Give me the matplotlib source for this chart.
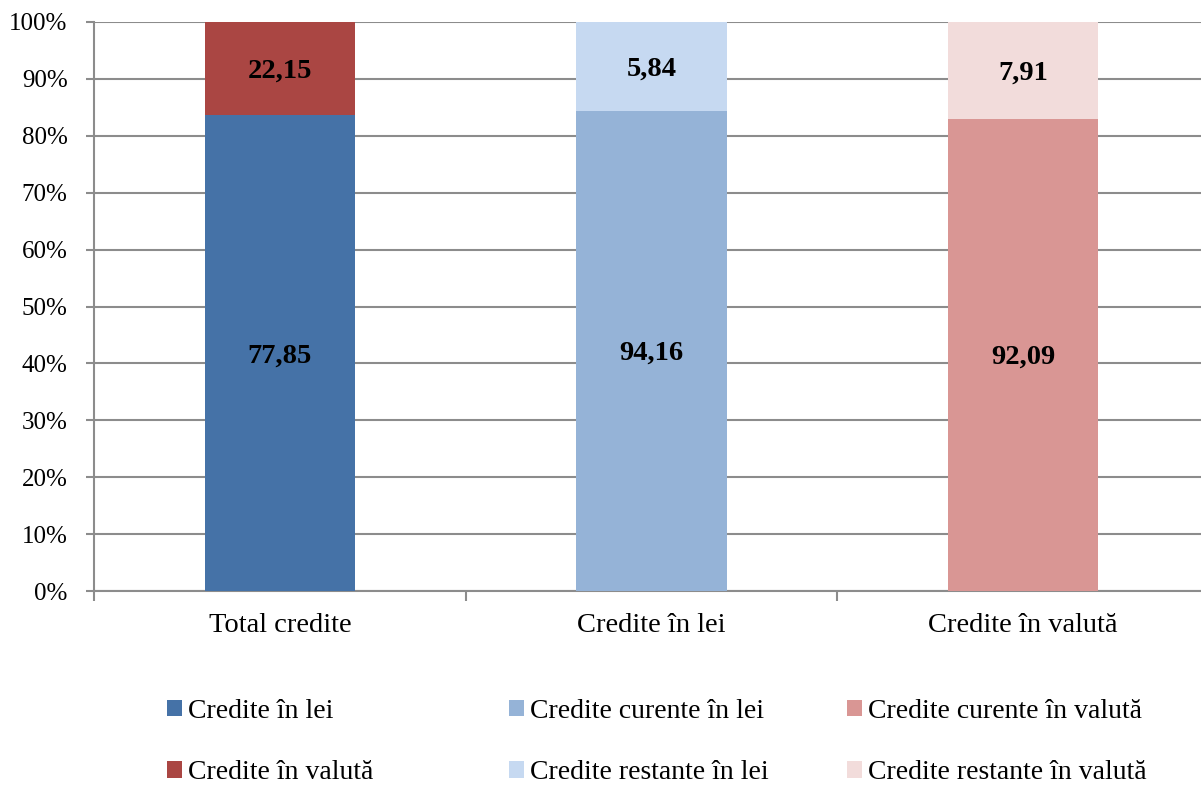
import matplotlib.pyplot as plt
from matplotlib.ticker import FuncFormatter, FixedLocator
from matplotlib.patches import Patch

# Data
categories = ['Total credite', 'Credite în lei', 'Credite în valută']
bottom_share = [83.6, 84.4, 83.0]   # height of lower segment (%)
top_share = [16.4, 15.6, 17.0]      # height of upper segment (%)
bottom_labels = ['77,85', '94,16', '92,09']
top_labels = ['22,15', '5,84', '7,91']
bottom_names = ['Credite în lei', 'Credite curente în lei', 'Credite curente în valută']
top_names = ['Credite în valută', 'Credite restante în lei', 'Credite restante în valută']
bottom_colors = ['#4572A7', '#95B3D7', '#D99694']
top_colors = ['#AA4643', '#C6D9F1', '#F2DCDB']

plt.rcParams['font.family'] = ['Liberation Serif', 'DejaVu Serif']

fig = plt.figure(figsize=(12.01, 7.87), dpi=100)
ax = fig.add_axes([94 / 1201, 196 / 787, 1115 / 1201, 569 / 787])

grid_color = '#8c8c8c'
bar_w = 0.404

for i in range(len(categories)):
    b = ax.bar(i, bottom_share[i], width=bar_w, color=bottom_colors[i], zorder=3)
    t = ax.bar(i, top_share[i], bottom=bottom_share[i], width=bar_w,
               color=top_colors[i], zorder=3)
    # labels sit a touch below the segment centre, as in the original
    ax.bar_label(b, labels=[bottom_labels[i]], label_type='center', padding=-2,
                 fontsize=20.5, fontweight='bold', color='black')
    ax.bar_label(t, labels=[top_labels[i]], label_type='center', padding=-2,
                 fontsize=20.5, fontweight='bold', color='black')

ax.set_xlim(-0.5, 2.5)
ax.set_ylim(0, 100)
ax.set_yticks(range(0, 101, 10))
ax.yaxis.set_major_formatter(FuncFormatter(lambda v, p: '%d%%' % v))
ax.yaxis.grid(True, color=grid_color, linewidth=1.5, zorder=0)

ax.set_xticks(range(len(categories)))
ax.set_xticklabels(categories, fontsize=20.5)
ax.xaxis.set_minor_locator(FixedLocator([-0.5, 0.5, 1.5, 2.5]))
ax.tick_params(axis='x', which='major', length=0, pad=15.5)
ax.tick_params(axis='x', which='minor', length=7, width=1.5, color=grid_color)
ax.tick_params(axis='y', length=6, width=1.5, color=grid_color, labelsize=18, pad=13)

for s in ['top', 'right']:
    ax.spines[s].set_visible(False)
for s in ['left', 'bottom']:
    ax.spines[s].set_color(grid_color)
    ax.spines[s].set_linewidth(1.5)

# legend: three columns, two rows each
col_x = [167, 509, 847]
for j in range(3):
    handles = [Patch(facecolor=bottom_colors[j], label=bottom_names[j]),
               Patch(facecolor=top_colors[j], label=top_names[j])]
    fig.legend(handles=handles, loc='center left',
               bbox_to_anchor=(col_x[j] / 1201, (787 - 742) / 787),
               frameon=False, fontsize=20, handlelength=0.54, handleheight=0.54,
               handletextpad=0.2, labelspacing=1.3, borderpad=0, borderaxespad=0)

fig.savefig('out.png', dpi=100)
plt.close(fig)
